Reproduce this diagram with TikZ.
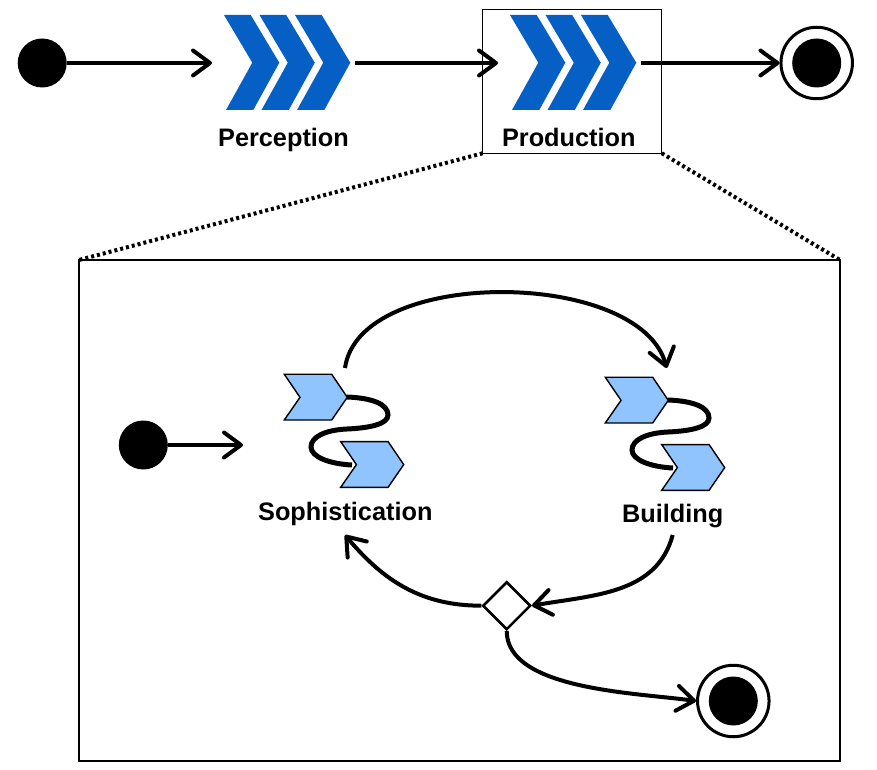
\documentclass[tikz,border=0pt]{standalone}
\usepackage{fontspec}
\setmainfont{Liberation Sans}
\usetikzlibrary{arrows.meta}
\usetikzlibrary{shapes.geometric}
\definecolor{bigblue}{RGB}{5,95,197}
\definecolor{smallblue}{RGB}{144,196,255}
\tikzset{
    statedot/.style={circle, fill=black, inner sep=0pt, minimum size=49pt},
    stateend/.style={circle, draw, fill=white, line width=3pt, inner sep=0pt, minimum size=71.5pt},
    anchorbox/.style={inner sep=0pt, outer sep=0pt},
    framebox/.style={draw, anchorbox, line width=1.2pt},
    blocklabel/.style={inner sep=0pt, anchor=base, font=\fontsize{25.3}{30}\selectfont\bfseries},
    flow/.style={line width=4pt, -{Straight Barb[length=17pt,width=25pt,round]}},
    zoomline/.style={line width=4pt, dash pattern=on 3pt off 3pt},
    decision/.style={diamond, draw, fill=white, line width=2.6pt, aspect=1, inner sep=0pt, minimum size=48pt},
    bigchevrons/.pic={
        \foreach \shift in {0,35.5,71}
            \fill[bigblue, xshift=\shift] (0,0) -- (26.7,0) -- (55.3,-47.7) -- (29.3,-95) -- (2,-95) -- (28.3,-47.7) -- cycle;
    },
    smallchevrons/.pic={
        \draw[line width=5pt] (62.7,-22.7) .. controls (87.7,-23.7) and (103.7,-29.7) .. (103.7,-40.7)
            .. controls (103.7,-49.7) and (85.7,-53.7) .. (62.7,-54.7)
            .. controls (40.7,-55.7) and (26.7,-62.7) .. (26.7,-72.7)
            .. controls (26.7,-82.7) and (45.7,-89.7) .. (67.7,-90.7);
        \foreach \shiftx/\shifty in {0/0,56.4/-67.3}
            \draw[fill=smallblue, line width=1.4pt, xshift=\shiftx, yshift=\shifty] (0,0) -- (47.4,0) -- (63,-23) -- (47.4,-45.7) -- (0,-45.7) -- (15.7,-23) -- cycle;
    }
}

\begin{document}
\begin{tikzpicture}[x=1pt, y=1pt]
    \useasboundingbox (0,0) rectangle (877,769);

    % top row
    \node[framebox, line width=0.9pt, minimum width=179pt, minimum height=143.3pt] (prodbox) at (572.2,687.4) {};
    \node[statedot] (topstart) at (42.2,706) {};
    \node[anchorbox, minimum width=143pt, minimum height=96pt] (perception) at (283.5,706) {};
    \node[anchorbox, minimum width=143pt, minimum height=96pt] (production) at (569.5,706) {};
    \node[stateend] (topend) at (816.7,706) {};
    \node[statedot] (topenddot) at (topend) {};
    \pic at (224,754) {bigchevrons};
    \pic at (510,754) {bigchevrons};
    \node[blocklabel] (perceptionlabel) at (283.5,622.5) {Perception};
    \node[blocklabel] (productionlabel) at (568.8,622.5) {Production};
    \draw[flow] (topstart) -- (perception);
    \draw[flow] (perception) -- (production);
    \draw[flow] (production) -- (topend);

    % zoomed box
    \node[framebox, minimum width=761pt, minimum height=501pt] (zoombox) at (459.5,258.5) {};
    \draw[zoomline] (prodbox.south west) -- (zoombox.north west);
    \draw[zoomline] (prodbox.south east) -- (zoombox.north east);

    \node[statedot] (substart) at (143.3,324) {};
    \node[anchorbox, minimum width=204pt, minimum height=167pt] (soph) at (345,317.5) {};
    \node[anchorbox, minimum width=100pt, minimum height=167pt] (build) at (672.7,317.5) {};
    \node[decision] (choice) at (506.7,163.3) {};
    \node[stateend] (subend) at (733.3,68) {};
    \node[statedot] (subenddot) at (subend) {};
    \pic at (284.3,394.7) {smallchevrons};
    \pic at (605.3,391.7) {smallchevrons};
    \node[blocklabel] (sophlabel) at (345.3,249) {Sophistication};
    \node[blocklabel] (buildlabel) at (672.7,247) {Building};

    \draw[flow] (substart.east) -- (substart.east -| soph.west);
    \draw[flow] (soph.north) to[out=82, in=105, looseness=0.82] ([xshift=-6pt]build.north);
    \draw[flow] (build.south) to[out=-105, in=10] (choice.east);
    \draw[flow] (choice.west) to[out=180, in=-50] (soph.south);
    \draw[flow] (choice.south) to[out=-90, in=172, looseness=0.75] (subend.west);
\end{tikzpicture}
\end{document}
